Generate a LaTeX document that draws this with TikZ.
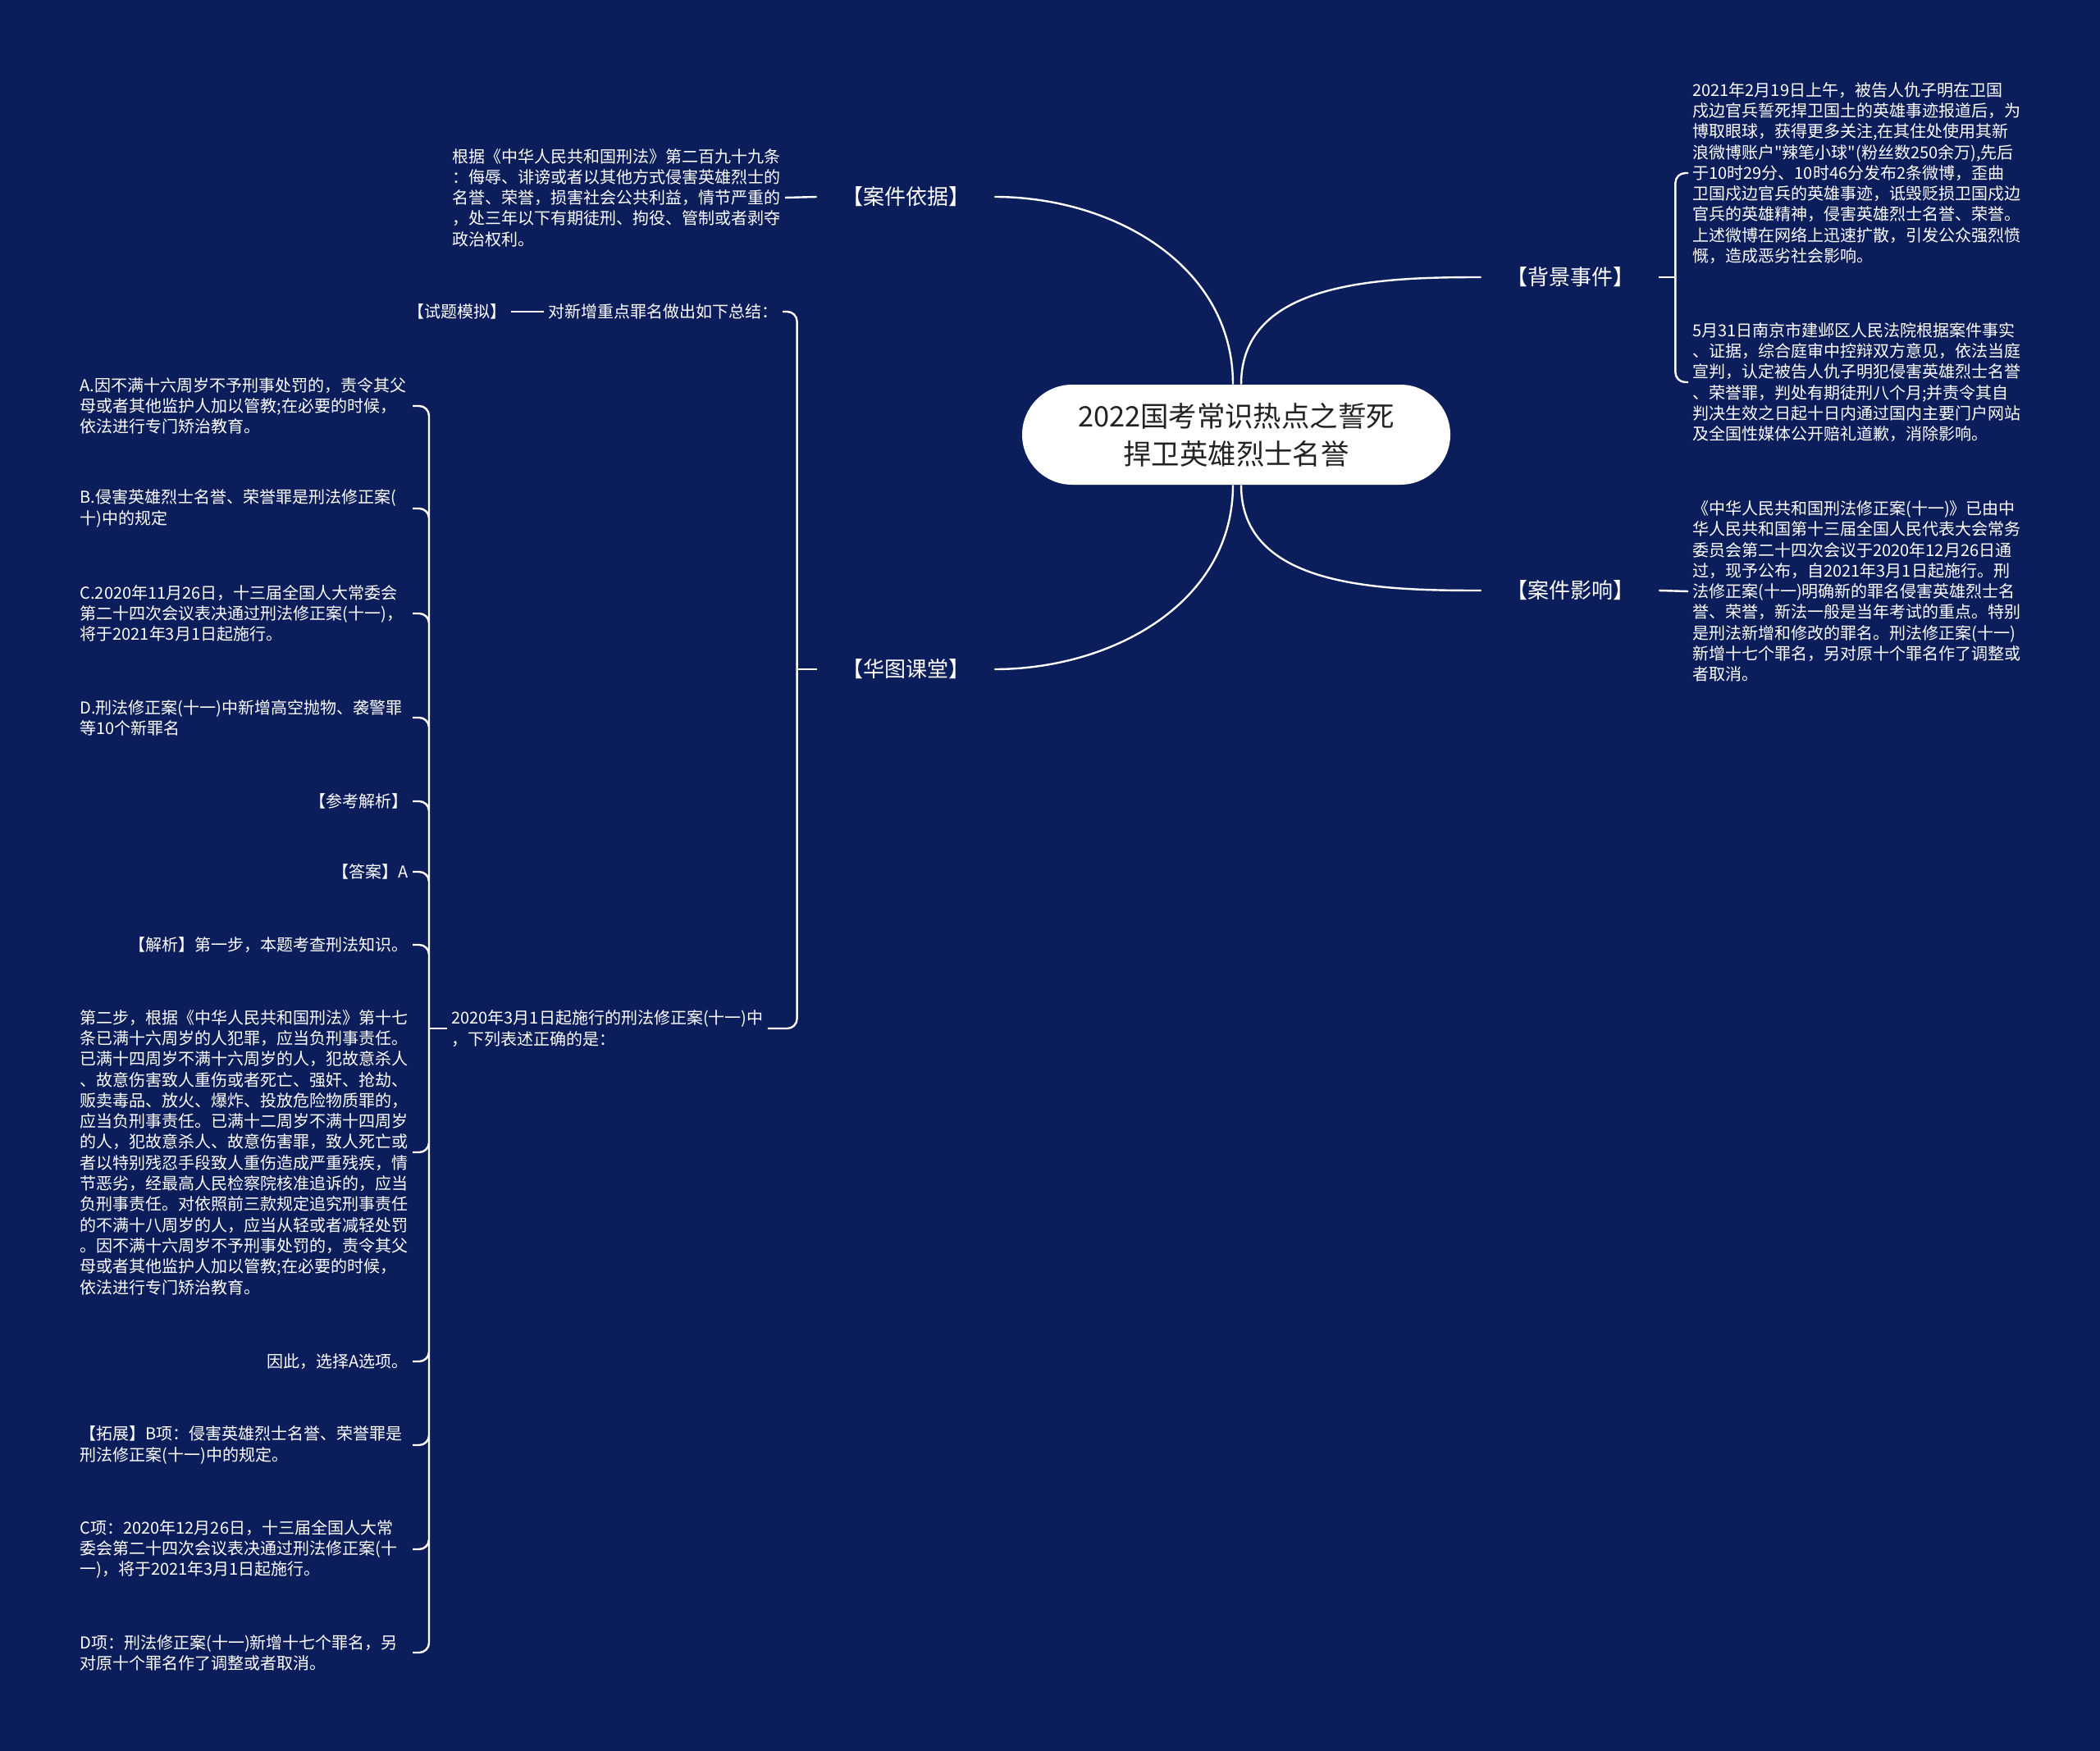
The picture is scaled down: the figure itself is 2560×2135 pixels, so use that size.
\documentclass[tikz,border=0pt]{standalone}
\usepackage{fontspec}
\setmainfont{Noto Sans CJK SC}[Ligatures=TeXOff]
\usepackage{tikz}
\usetikzlibrary{positioning, calc}
\definecolor{bgNavy}{RGB}{11,29,90}
\definecolor{rootInk}{RGB}{34,34,34}
\tikzset{
  rootbox/.style={rectangle, rounded corners=30.5pt, fill=white, text=rootInk,
              minimum width=261pt, minimum height=61pt, font=\fontsize{17.2}{23}\selectfont, align=center},
  branch/.style={text=white, inner xsep=15pt, inner ysep=4pt, font=\fontsize{13}{15}\selectfont},
  leaf/.style={text=white, inner sep=2.5pt, font=\fontsize{10}{12.65}\selectfont, align=left},
  leafwide/.style={leaf, text width=200pt},
  link/.style={draw=white, line width=1.2pt},
  hook/.style={link, rounded corners=6pt},
}

\begin{document}
\begin{tikzpicture}[x=0.5pt, y=-0.5pt]
  % canvas
  \fill[bgNavy] (0,0) rectangle (2560,2135);
  \useasboundingbox (0,0) rectangle (2560,2135);

  % centre and the four branches
  \node[rootbox] (root) at (1507,530) {2022国考常识热点之誓死\\捍卫英雄烈士名誉};
  \node[branch] (yiju) at (1104,240) {【案件依据】};
  \node[branch] (ketang) at (1104,816) {【华图课堂】};
  \node[branch] (beijing) at (1914,338) {【背景事件】};
  \node[branch] (yingxiang) at (1914,720) {【案件影响】};

  \draw[link] (yiju.east) to[out=0, in=90] ([xshift=-2pt]root.north);
  \draw[link] ([xshift=3pt]root.north) to[out=90, in=180] (beijing.west);
  \draw[link] (ketang.east) to[out=0, in=-90] ([xshift=-2pt]root.south);
  \draw[link] ([xshift=3pt]root.south) to[out=-90, in=180] (yingxiang.west);

  % right side
  \node[leaf, anchor=west] (bjOne) at (2058,211) {2021年2月19日上午，被告人仇子明在卫国\\
    戍边官兵誓死捍卫国土的英雄事迹报道后，为\\
    博取眼球，获得更多关注,在其住处使用其新\\
    浪微博账户"辣笔小球"(粉丝数250余万),先后\\
    于10时29分、10时46分发布2条微博，歪曲\\
    卫国戍边官兵的英雄事迹，诋毁贬损卫国戍边\\
    官兵的英雄精神，侵害英雄烈士名誉、荣誉。\\
    上述微博在网络上迅速扩散，引发公众强烈愤\\
    慨，造成恶劣社会影响。};
  \node[leaf, anchor=west] (bjTwo) at (2058,466) {5月31日南京市建邺区人民法院根据案件事实\\
    、证据，综合庭审中控辩双方意见，依法当庭\\
    宣判，认定被告人仇子明犯侵害英雄烈士名誉\\
    、荣誉罪，判处有期徒刑八个月;并责令其自\\
    判决生效之日起十日内通过国内主要门户网站\\
    及全国性媒体公开赔礼道歉，消除影响。};
  \draw[link] (beijing.east) -- ++(20,0) coordinate (bjfork);
  \draw[hook] (bjfork) |- (bjOne.west) (bjfork) |- (bjTwo.west);

  \node[leaf, anchor=west] (yxText) at (2058,721) {《中华人民共和国刑法修正案(十一)》已由中\\
    华人民共和国第十三届全国人民代表大会常务\\
    委员会第二十四次会议于2020年12月26日通\\
    过，现予公布，自2021年3月1日起施行。刑\\
    法修正案(十一)明确新的罪名侵害英雄烈士名\\
    誉、荣誉，新法一般是当年考试的重点。特别\\
    是刑法新增和修改的罪名。刑法修正案(十一)\\
    新增十七个罪名，另对原十个罪名作了调整或\\
    者取消。};
  \draw[link] (yingxiang.east) -- (yxText.west);

  % left side
  \node[leaf, anchor=east] (yjText) at (957,241) {根据《中华人民共和国刑法》第二百九十九条\\
    ：侮辱、诽谤或者以其他方式侵害英雄烈士的\\
    名誉、荣誉，损害社会公共利益，情节严重的\\
    ，处三年以下有期徒刑、拘役、管制或者剥夺\\
    政治权利。};
  \draw[link] (yjText.east) -- (yiju.west);

  \node[leaf, anchor=east] (zongjie) at (954,380) {对新增重点罪名做出如下总结：};
  \node[leaf, left=20pt of zongjie] (moni) {【试题模拟】};
  \draw[link] (moni) -- (zongjie);
  \node[leaf, anchor=west] (tiaowen) at (545,1254) {2020年3月1日起施行的刑法修正案(十一)中\\
    ，下列表述正确的是：};
  \draw[link] (ketang.west) -- ++(-24,0) coordinate (ktfork);
  \draw[hook] (ktfork) |- (zongjie.east) (ktfork) |- (tiaowen.east);

  % answer options and analysis
  \node[leafwide, anchor=east] (optA) at (503,495) {A.因不满十六周岁不予刑事处罚的，责令其父\\
    母或者其他监护人加以管教;在必要的时候，\\
    依法进行专门矫治教育。};
  \node[leafwide, anchor=east] (optB) at (503,620) {B.侵害英雄烈士名誉、荣誉罪是刑法修正案(\\
    十)中的规定};
  \node[leafwide, anchor=east] (optC) at (503,748) {C.2020年11月26日，十三届全国人大常委会\\
    第二十四次会议表决通过刑法修正案(十一)，\\
    将于2021年3月1日起施行。};
  \node[leafwide, anchor=east] (optD) at (503,875) {D.刑法修正案(十一)中新增高空抛物、袭警罪\\
    等10个新罪名};
  \node[leaf, anchor=east] (cankao) at (503,977) {【参考解析】};
  \node[leaf, anchor=east] (daan) at (503,1063) {【答案】A};
  \node[leaf, anchor=east] (jiexi) at (503,1152) {【解析】第一步，本题考查刑法知识。};
  \node[leafwide, anchor=east] (buzhou) at (503,1405) {第二步，根据《中华人民共和国刑法》第十七\\
    条已满十六周岁的人犯罪，应当负刑事责任。\\
    已满十四周岁不满十六周岁的人，犯故意杀人\\
    、故意伤害致人重伤或者死亡、强奸、抢劫、\\
    贩卖毒品、放火、爆炸、投放危险物质罪的，\\
    应当负刑事责任。已满十二周岁不满十四周岁\\
    的人，犯故意杀人、故意伤害罪，致人死亡或\\
    者以特别残忍手段致人重伤造成严重残疾，情\\
    节恶劣，经最高人民检察院核准追诉的，应当\\
    负刑事责任。对依照前三款规定追究刑事责任\\
    的不满十八周岁的人，应当从轻或者减轻处罚\\
    。因不满十六周岁不予刑事处罚的，责令其父\\
    母或者其他监护人加以管教;在必要的时候，\\
    依法进行专门矫治教育。};
  \node[leaf, anchor=east] (xuanze) at (503,1660) {因此，选择A选项。};
  \node[leafwide, anchor=east] (tuozhan) at (503,1762) {【拓展】B项：侵害英雄烈士名誉、荣誉罪是\\
    刑法修正案(十一)中的规定。};
  \node[leafwide, anchor=east] (cxiang) at (503,1889) {C项：2020年12月26日，十三届全国人大常\\
    委会第二十四次会议表决通过刑法修正案(十\\
    一)，将于2021年3月1日起施行。};
  \node[leafwide, anchor=east] (dxiang) at (503,2015) {D项：刑法修正案(十一)新增十七个罪名，另\\
    对原十个罪名作了调整或者取消。};

  \draw[link] (tiaowen.west) -- ++(-22,0) coordinate (twfork);
  \draw[hook] (twfork) |- (optA.east) (twfork) |- (optB.east) (twfork) |- (optC.east)
    (twfork) |- (optD.east) (twfork) |- (cankao.east) (twfork) |- (daan.east)
    (twfork) |- (jiexi.east) (twfork) |- (buzhou.east) (twfork) |- (xuanze.east)
    (twfork) |- (tuozhan.east) (twfork) |- (cxiang.east) (twfork) |- (dxiang.east);
\end{tikzpicture}
\end{document}
